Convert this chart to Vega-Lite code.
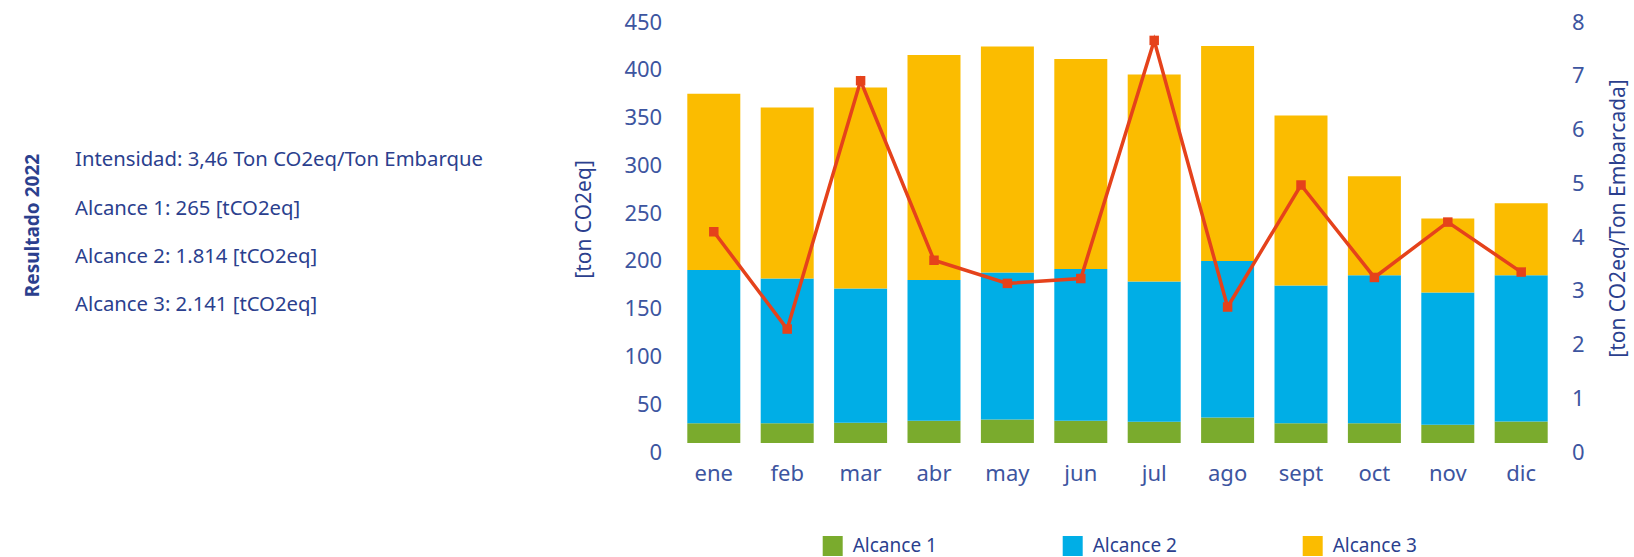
{
  "$schema": "https://vega.github.io/schema/vega-lite/v6.json",
  "background": "white",
  "padding": {"left": 23, "top": 11, "right": 0, "bottom": 0},
  "bounds": "flush",
  "spacing": 592,
  "config": {"view": {"stroke": null}, "font": "Noto Sans"},
  "datasets": {
    "resumen": [
      {"orden": 1, "texto": "Intensidad: 3,46 Ton CO2eq/Ton Embarque"},
      {"orden": 2, "texto": "Alcance 1: 265 [tCO2eq]"},
      {"orden": 3, "texto": "Alcance 2: 1.814 [tCO2eq]"},
      {"orden": 4, "texto": "Alcance 3: 2.141 [tCO2eq]"}
    ],
    "emisiones": [
      {"mes": "ene", "alcance": "Alcance 1", "valor": 20.6},
      {"mes": "ene", "alcance": "Alcance 2", "valor": 160.5},
      {"mes": "ene", "alcance": "Alcance 3", "valor": 184.4},
      {"mes": "feb", "alcance": "Alcance 1", "valor": 20.6},
      {"mes": "feb", "alcance": "Alcance 2", "valor": 151.5},
      {"mes": "feb", "alcance": "Alcance 3", "valor": 179.0},
      {"mes": "mar", "alcance": "Alcance 1", "valor": 21.2},
      {"mes": "mar", "alcance": "Alcance 2", "valor": 140.5},
      {"mes": "mar", "alcance": "Alcance 3", "valor": 210.3},
      {"mes": "abr", "alcance": "Alcance 1", "valor": 23.2},
      {"mes": "abr", "alcance": "Alcance 2", "valor": 147.4},
      {"mes": "abr", "alcance": "Alcance 3", "valor": 235.5},
      {"mes": "may", "alcance": "Alcance 1", "valor": 24.7},
      {"mes": "may", "alcance": "Alcance 2", "valor": 153.7},
      {"mes": "may", "alcance": "Alcance 3", "valor": 236.5},
      {"mes": "jun", "alcance": "Alcance 1", "valor": 23.2},
      {"mes": "jun", "alcance": "Alcance 2", "valor": 158.9},
      {"mes": "jun", "alcance": "Alcance 3", "valor": 219.8},
      {"mes": "jul", "alcance": "Alcance 1", "valor": 22.2},
      {"mes": "jul", "alcance": "Alcance 2", "valor": 146.8},
      {"mes": "jul", "alcance": "Alcance 3", "valor": 216.6},
      {"mes": "ago", "alcance": "Alcance 1", "valor": 26.6},
      {"mes": "ago", "alcance": "Alcance 2", "valor": 163.9},
      {"mes": "ago", "alcance": "Alcance 3", "valor": 225.0},
      {"mes": "sept", "alcance": "Alcance 1", "valor": 20.6},
      {"mes": "sept", "alcance": "Alcance 2", "valor": 144.2},
      {"mes": "sept", "alcance": "Alcance 3", "valor": 177.9},
      {"mes": "oct", "alcance": "Alcance 1", "valor": 20.6},
      {"mes": "oct", "alcance": "Alcance 2", "valor": 155.0},
      {"mes": "oct", "alcance": "Alcance 3", "valor": 103.6},
      {"mes": "nov", "alcance": "Alcance 1", "valor": 19.1},
      {"mes": "nov", "alcance": "Alcance 2", "valor": 138.4},
      {"mes": "nov", "alcance": "Alcance 3", "valor": 77.4},
      {"mes": "dic", "alcance": "Alcance 1", "valor": 22.4},
      {"mes": "dic", "alcance": "Alcance 2", "valor": 153.1},
      {"mes": "dic", "alcance": "Alcance 3", "valor": 75.3}
    ],
    "intensidad": [
      {"mes": "ene", "intensidad": 3.93},
      {"mes": "feb", "intensidad": 2.12},
      {"mes": "mar", "intensidad": 6.74},
      {"mes": "abr", "intensidad": 3.40},
      {"mes": "may", "intensidad": 2.97},
      {"mes": "jun", "intensidad": 3.06},
      {"mes": "jul", "intensidad": 7.49},
      {"mes": "ago", "intensidad": 2.53},
      {"mes": "sept", "intensidad": 4.80},
      {"mes": "oct", "intensidad": 3.08},
      {"mes": "nov", "intensidad": 4.11},
      {"mes": "dic", "intensidad": 3.18}
    ]
  },
  "hconcat": [
    {
      "width": 2,
      "height": 430,
      "data": {"name": "resumen"},
      "mark": {"type": "text", "align": "left", "baseline": "middle", "fontSize": 20.3, "color": "#2B3F8E", "font": "Noto Sans"},
      "encoding": {
        "y": {
          "field": "orden", "type": "quantitative",
          "scale": {"domain": [-2.047, 6.850], "reverse": true, "nice": false, "zero": false},
          "axis": {"title": "Resultado 2022", "labels": false, "ticks": false, "domain": false, "grid": false,
                   "titleFontSize": 19, "titleFontWeight": "bold", "titleColor": "#2B3F8E", "titlePadding": 31.6,
                   "titleFont": "Noto Sans", "titleY": 212}
        },
        "text": {"field": "texto", "type": "nominal"}
      }
    },
    {
      "width": 899,
      "height": 430,
      "layer": [
        {
          "data": {"name": "emisiones"},
          "mark": {"type": "bar"},
          "encoding": {
            "x": {
              "field": "mes", "type": "nominal",
              "sort": ["ene", "feb", "mar", "abr", "may", "jun", "jul", "ago", "sept", "oct", "nov", "dic"],
              "scale": {"paddingInner": 0.278, "paddingOuter": 0.263},
              "axis": {"title": null, "labelAngle": 0, "ticks": false, "domain": false, "grid": false,
                       "labelPadding": 20, "labelFontSize": 22, "labelColor": "#3D55A0", "labelFont": "Noto Sans"}
            },
            "y": {
              "field": "valor", "type": "quantitative", "stack": "zero",
              "scale": {"domain": [0, 450], "nice": false},
              "axis": {"title": "[ton CO2eq]", "values": [0, 50, 100, 150, 200, 250, 300, 350, 400, 450],
                       "grid": false, "domain": false, "ticks": false,
                       "labelFontSize": 22, "labelColor": "#3D55A0", "labelFont": "Noto Sans", "labelPadding": 6.3,
                       "labelOffset": 9, "labelFlush": false, "labelOverlap": false,
                       "titleFontSize": 21, "titleFontWeight": "normal", "titleColor": "#2B3F8E", "titleFont": "Noto Sans",
                       "titlePadding": 29, "titleY": 206}
            },
            "color": {
              "field": "alcance", "type": "nominal",
              "scale": {"domain": ["Alcance 1", "Alcance 2", "Alcance 3"], "range": ["#7AAB2D", "#00AEE6", "#FBBC00"]},
              "legend": {"title": null, "orient": "none", "direction": "horizontal", "legendX": 748.7, "legendY": 523,
                         "symbolType": "square", "symbolSize": 400, "symbolStrokeWidth": 0,
                         "labelFontSize": 19, "labelColor": "#2B3F8E", "labelFont": "Noto Sans", "labelOffset": 10,
                         "columnPadding": 125}
            },
            "order": {"field": "alcance", "sort": "ascending"}
          }
        },
        {
          "data": {"name": "intensidad"},
          "mark": {"type": "line", "color": "#E5421B", "strokeWidth": 3.5,
                   "point": {"shape": "square", "size": 90, "filled": true, "color": "#E5421B"}},
          "encoding": {
            "x": {
              "field": "mes", "type": "nominal",
              "sort": ["ene", "feb", "mar", "abr", "may", "jun", "jul", "ago", "sept", "oct", "nov", "dic"]
            },
            "y": {
              "field": "intensidad", "type": "quantitative",
              "scale": {"domain": [0, 8], "nice": false},
              "axis": {"orient": "right", "title": "[ton CO2eq/Ton Embarcada]", "values": [0, 1, 2, 3, 4, 5, 6, 7, 8],
                       "grid": false, "domain": false, "ticks": false,
                       "labelFontSize": 22, "labelColor": "#3D55A0", "labelFont": "Noto Sans", "labelPadding": 4.4,
                       "labelOffset": 9, "labelFlush": false, "labelOverlap": false,
                       "titleFontSize": 21, "titleFontWeight": "normal", "titleColor": "#2B3F8E", "titleFont": "Noto Sans",
                       "titleAngle": 270, "titleBaseline": "top", "titlePadding": 24, "titleY": 205}
            }
          }
        }
      ],
      "resolve": {"scale": {"y": "independent"}}
    }
  ]
}
